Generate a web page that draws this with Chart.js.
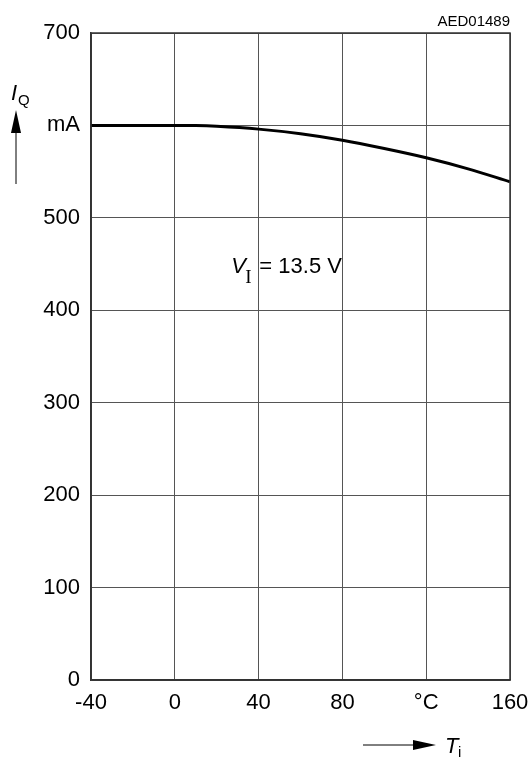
<!DOCTYPE html>
<html>
<head>
<meta charset="utf-8">
<script src="https://cdn.jsdelivr.net/npm/chart.js@4/dist/chart.umd.min.js"></script>
<style>
  html, body { margin: 0; padding: 0; background: #fff; }
  #wrap { width: 528px; height: 758px; position: relative; }
</style>
</head>
<body>
<div id="wrap"><canvas id="chart"></canvas></div>
<script>
// junction temperature (°C) vs quiescent current (mA)
const tempValues = [-40, -20, 0, 10, 20, 40, 60, 80, 100, 120, 140, 160];
const currentValues = [600, 600, 600, 599.8, 599, 596, 591, 584, 575, 565, 553, 539];
const xTicks = [-40, 0, 40, 80, 120, 160];
const xTickLabels = ['-40', '0', '40', '80', '°C', '160'];
const yTicks = [0, 100, 200, 300, 400, 500, 600, 700];
const yTickLabels = ['0', '100', '200', '300', '400', '500', 'mA', '700'];

const FONT = '"Liberation Sans", Arial, sans-serif';

// arrows + axis names + note
const extras = {
    id: 'extras',
    afterDraw(chart) {
        const ctx = chart.ctx;
        const area = chart.chartArea;
        const xs = chart.scales.x;
        const ys = chart.scales.y;
        ctx.save();
        ctx.fillStyle = '#000';
        ctx.strokeStyle = '#000';

        // drawing number
        ctx.font = '15px ' + FONT;
        ctx.textAlign = 'right';
        ctx.textBaseline = 'alphabetic';
        ctx.fillText('AED01489', area.right, 26);

        // I_Q label with up arrow
        ctx.textAlign = 'left';
        ctx.font = 'italic 22px ' + FONT;
        ctx.fillText('I', 11, 100);
        ctx.font = '15px ' + FONT;
        ctx.fillText('Q', 18, 105);
        ctx.lineWidth = 1;
        ctx.beginPath();
        ctx.moveTo(16, 184);
        ctx.lineTo(16, 125);
        ctx.stroke();
        ctx.beginPath();
        ctx.moveTo(16, 110);
        ctx.lineTo(11, 133);
        ctx.lineTo(21, 133);
        ctx.closePath();
        ctx.fill();

        // T_i label with right arrow
        ctx.beginPath();
        ctx.moveTo(363, 745);
        ctx.lineTo(420, 745);
        ctx.stroke();
        ctx.beginPath();
        ctx.moveTo(436, 745);
        ctx.lineTo(413, 740);
        ctx.lineTo(413, 750);
        ctx.closePath();
        ctx.fill();
        ctx.font = 'italic 22px ' + FONT;
        ctx.fillText('T', 445, 753);
        ctx.font = '15px ' + FONT;
        ctx.fillText('i', 458, 757);

        // supply voltage note
        const nx = xs.getPixelForValue(27);
        const ny = ys.getPixelForValue(440);
        ctx.font = 'italic 22px ' + FONT;
        ctx.fillText('V', nx, ny);
        ctx.font = '19px "Liberation Serif", serif';
        ctx.fillText('I', nx + 14, ny + 10);
        ctx.font = '22px ' + FONT;
        ctx.fillText('= 13.5 V', nx + 28, ny);
        ctx.restore();
    }
};

new Chart(document.getElementById('chart'), {
    type: 'line',
    data: {
        datasets: [{
            data: tempValues.map((t, i) => ({ x: t, y: currentValues[i] })),
            borderColor: '#000',
            borderWidth: 3,
            pointRadius: 0,
            tension: 0.4,
            cubicInterpolationMode: 'monotone',
            fill: false
        }]
    },
    options: {
        responsive: true,
        maintainAspectRatio: false,
        animation: false,
        layout: { padding: { left: 0, right: 18, top: 33, bottom: 0 } },
        plugins: { legend: { display: false }, tooltip: { enabled: false } },
        scales: {
            x: {
                type: 'linear',
                min: -40,
                max: 160,
                afterBuildTicks: (scale) => { scale.ticks = xTicks.map(v => ({ value: v })); },
                afterFit: (scale) => {
                    scale.height = 78;
                    scale.paddingLeft = 0;
                    scale.paddingRight = 0;
                },
                grid: { color: '#555', lineWidth: 1, drawTicks: false },
                border: { color: '#333', width: 1.5 },
                ticks: {
                    padding: 10,
                    maxRotation: 0,
                    color: '#000',
                    font: { family: FONT, size: 22 },
                    callback: (v) => xTickLabels[xTicks.indexOf(v)]
                }
            },
            y: {
                min: 0,
                max: 700,
                afterBuildTicks: (scale) => { scale.ticks = yTicks.map(v => ({ value: v })); },
                afterFit: (scale) => {
                    scale.width = 91;
                    scale.paddingTop = 0;
                    scale.paddingBottom = 0;
                },
                grid: { color: '#555', lineWidth: 1, drawTicks: false },
                border: { color: '#333', width: 1.5 },
                ticks: {
                    padding: 11,
                    color: '#000',
                    font: { family: FONT, size: 22 },
                    callback: (v) => yTickLabels[yTicks.indexOf(v)]
                }
            }
        }
    },
    plugins: [extras, {
        id: 'frame',
        afterDatasetsDraw(chart) {
            const a = chart.chartArea;
            const ctx = chart.ctx;
            ctx.save();
            ctx.strokeStyle = '#333';
            ctx.lineWidth = 1.5;
            ctx.strokeRect(a.left, a.top, a.right - a.left, a.bottom - a.top);
            ctx.restore();
        }
    }]
});
</script>
</body>
</html>
